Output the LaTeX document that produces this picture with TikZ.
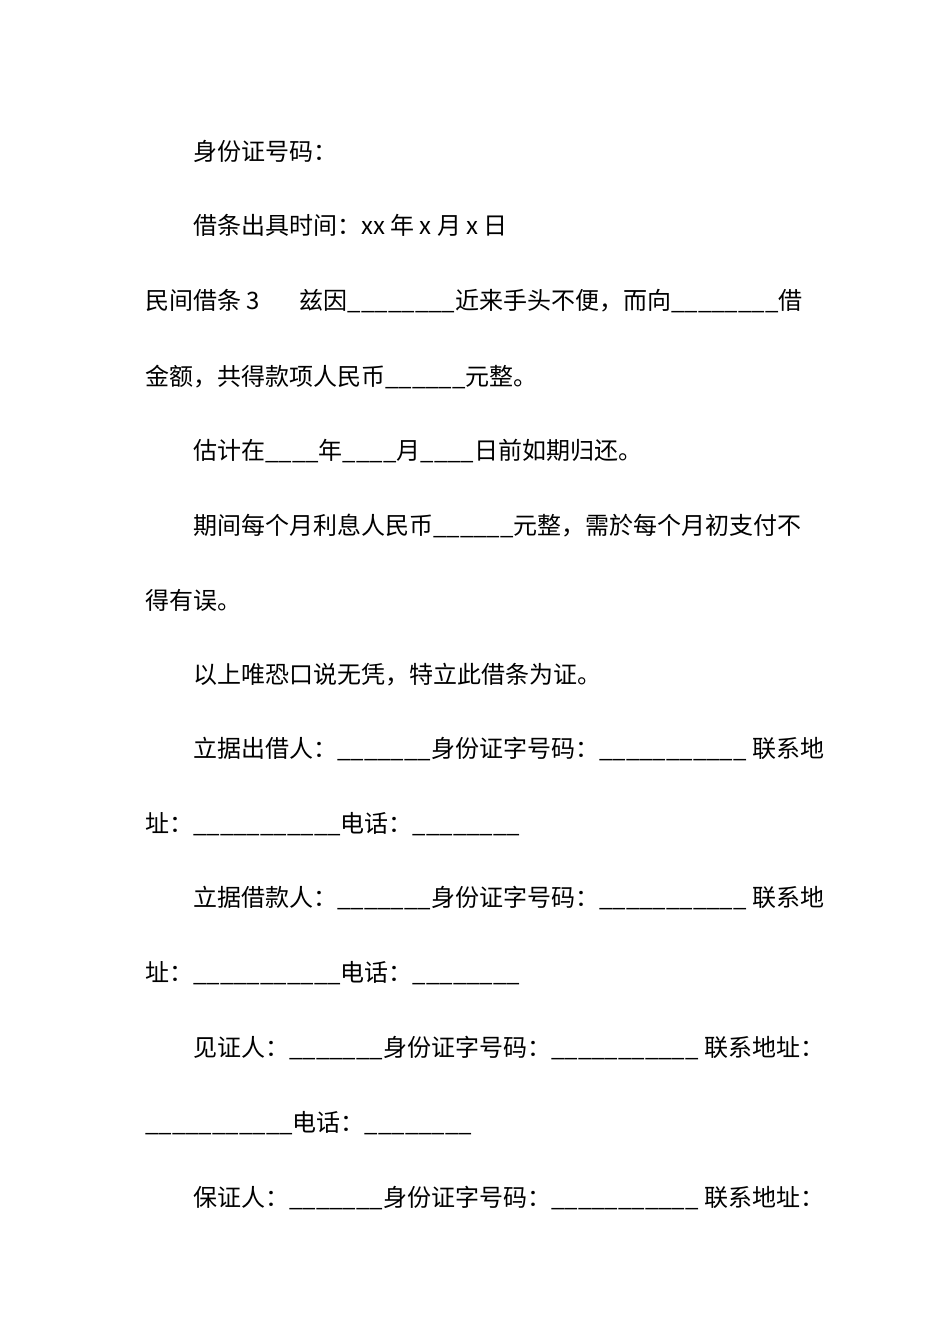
\documentclass[tikz,border=0pt]{standalone}
\usepackage{fontspec}
\setmainfont{Noto Sans CJK SC}
\begin{document}
\begin{tikzpicture}[x=0.75pt,y=-0.75pt,
  ln/.style={anchor=base west,inner sep=0pt,font=\fontsize{18}{20}\selectfont}]
\useasboundingbox (0,0) rectangle (950,1344);
\node[ln] (l1) at (193,161) {身份证号码：};
\node[ln] (l2) at (193,235) {借条出具时间：xx 年 x 月 x 日};
\node[ln] (l3) at (145,310) {民间借条 3\hspace{30pt}兹因\_\_\_\_\_\_\_\_近来手头不便，而向\_\_\_\_\_\_\_\_借};
\node[ln] (l4) at (145,385) {金额，共得款项人民币\_\_\_\_\_\_元整。};
\node[ln] (l5) at (193,459) {估计在\_\_\_\_年\_\_\_\_月\_\_\_\_日前如期归还。};
\node[ln] (l6) at (193,534) {期间每个月利息人民币\_\_\_\_\_\_元整，需於每个月初支付不};
\node[ln] (l7) at (145,609) {得有误。};
\node[ln] (l8) at (193,683) {以上唯恐口说无凭，特立此借条为证。};
\node[ln] (l9) at (193,757) {立据出借人：\_\_\_\_\_\_\_身份证字号码：\_\_\_\_\_\_\_\_\_\_\_ 联系地};
\node[ln] (l10) at (145,832) {址：\_\_\_\_\_\_\_\_\_\_\_电话：\_\_\_\_\_\_\_\_};
\node[ln] (l11) at (193,906) {立据借款人：\_\_\_\_\_\_\_身份证字号码：\_\_\_\_\_\_\_\_\_\_\_ 联系地};
\node[ln] (l12) at (145,981) {址：\_\_\_\_\_\_\_\_\_\_\_电话：\_\_\_\_\_\_\_\_};
\node[ln] (l13) at (193,1056) {见证人：\_\_\_\_\_\_\_身份证字号码：\_\_\_\_\_\_\_\_\_\_\_ 联系地址：};
\node[ln] (l14) at (145,1131) {\_\_\_\_\_\_\_\_\_\_\_电话：\_\_\_\_\_\_\_\_};
\node[ln] (l15) at (193,1206) {保证人：\_\_\_\_\_\_\_身份证字号码：\_\_\_\_\_\_\_\_\_\_\_ 联系地址：};
\end{tikzpicture}
\end{document}
